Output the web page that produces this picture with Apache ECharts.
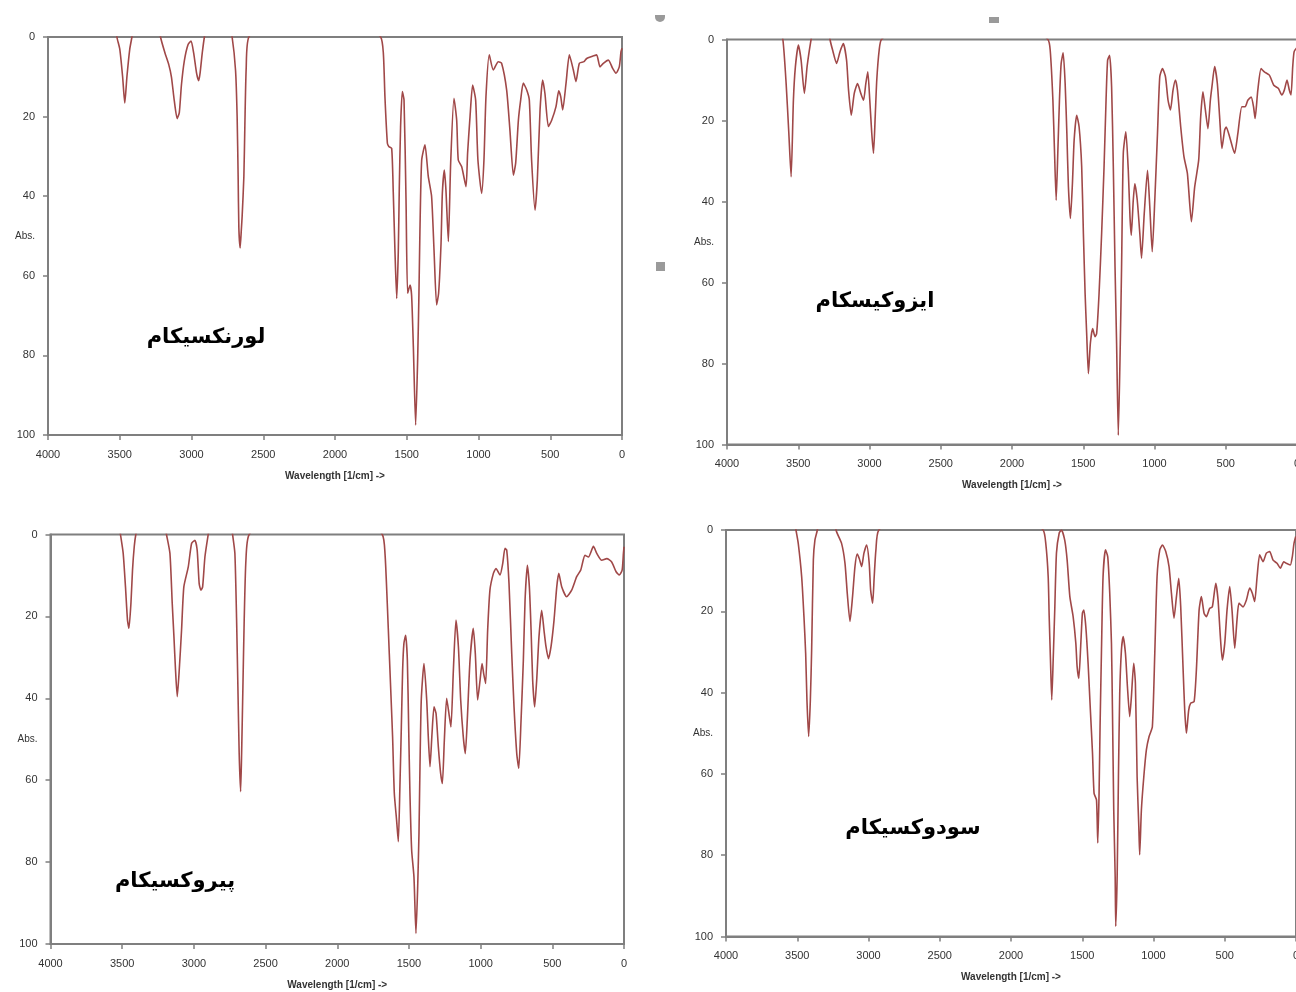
<!DOCTYPE html>
<html>
<head>
<meta charset="utf-8">
<script src="https://cdn.jsdelivr.net/npm/echarts@6/dist/echarts.min.js"></script>
<style>
html,body{margin:0;padding:0;background:#fff;}
#chart{width:1296px;height:992px;}
</style>
</head>
<body>
<div id="chart"></div>
<script>
// ---- tick labels ----
const xTicks = [4000, 3500, 3000, 2500, 2000, 1500, 1000, 500, 0];
const yTicks = [0, 20, 40, 60, 80, 100];

// ---- compound names ----
const names = ['لورنکسیکام', 'ایزوکیسکام', 'پیروکسیکام', 'سودوکسیکام'];

// ---- Lornoxicam (top-left) ----
const lornoWave = [3600,3520,3500,3480,3465,3450,3430,3415,3320,3216,3185,3158,3140,3120,3100,3085,3070,3050,3025,3003,2985,2965,2950,2940,2925,2910,2810,2717,2693,2682,2675,2670,2661,2652,2647,2635,2628,2619,2600,2140,
1682,1663,1652,1635,1625,1605,1594,1582,1570,1559,1552,1543,1531,1519,1505,1494,1477,1466,1454,1438,1424,1415,1408,1396,1373,1350,1327,1310,1292,1278,1261,1252,1238,1227,1210,1194,1171,1152,1141,1117,1087,1076,1059,1041,1020,1004,978,962,948,925,897,862,839,804,781,757,741,722,706,688,664,646,630,606,590,571,553,537,513,490,460,441,427,413,390,367,339,321,297,265,246,211,177,153,130,95,65,42,19,7,0];
const lornoAbs = [-20,0,3,10,16.6,10,3,0,-20,0,4,7,10,16,20.5,19,12,6,2,1,4,9,11,9,4,0,-20,0,8.4,20,35,48,53,48,45,35,22,8,0,-20,
0,4.1,15,26.7,27.5,28,39,54,65.7,54,38,22.5,13.7,15.8,41,64.4,62.3,65,77.8,97.5,81,64.4,48.5,31,27.1,35,40,53.5,67.3,64.4,51.8,39.3,33.4,38.4,51.4,31.7,15.4,20.9,30.9,32.6,37.6,29.2,20,12.1,15.8,30.9,39.3,30.9,15,4.5,8.3,6.2,6.6,13.3,23.4,34.7,31.7,20.9,15.8,11.6,13.3,15.8,30.9,43.5,35.9,18.3,10.8,14.2,22.5,20.9,17.5,13.5,15,18.3,11.6,4.5,8.3,11.2,6.6,6.2,5.4,4.9,4.5,7.5,6.6,5.8,7.9,9.1,7.5,3.7,2.8];

// ---- Isoxicam (top-right) ----
const isoWave = [3700,3608,3585,3566,3550,3534,3520,3499,3480,3457,3438,3422,3410,3340,3277,3259,3231,3207,3184,3161,3147,3128,3107,3084,3061,3042,3026,3012,2998,2984,2972,2960,2949,2932,2916,2330,
1748,1732,1713,1702,1690,1678,1667,1655,1641,1627,1615,1604,1590,1576,1564,1546,1529,1511,1499,1487,1476,1464,1450,1434,1417,1406,1389,1371,1354,1340,1329,1315,1301,1289,1277,1266,1254,1240,1231,1219,1201,1184,1172,1163,1149,1138,1121,1103,1091,1072,1049,1033,1016,998,979,963,944,923,905,888,870,853,839,816,793,769,741,718,690,676,660,643,625,608,597,578,559,543,527,508,497,473,438,415,387,364,345,322,305,294,275,252,229,194,163,130,107,89,70,54,42,30,20,0];
const isoAbs = [-20,0,10.9,23.2,33.9,15,6.7,1.4,5.1,13.3,6.7,2.6,0,-15,0,2.6,5.9,3,1,5.1,12.5,18.7,13.3,10.9,13.3,15,10.9,8,15,23.2,28.1,19.1,10,2.6,0,-20,
0,2.6,15,27.3,39.7,27.3,15,5.9,3.3,10.9,23.2,36.4,44.2,35.6,24.9,18.7,21.6,31.4,47.9,62.7,72.6,82.5,75,71.4,73.4,72.6,62.7,47.9,31.4,15,5.1,3.9,11.7,31.4,56.1,75,97.7,75,56.1,28.1,22.8,32.3,43.8,48.3,39.7,35.6,39.7,47.9,54,43,32.3,41.3,52.4,39.7,23.2,9.2,7.2,9.2,15,17.4,12.5,10,12.5,21.6,29,33.1,45,36.4,29.8,19.1,12.9,17.4,22,15,11.7,6.7,10.9,19.1,26.9,22.4,21.6,24,28.1,23.2,16.6,16.6,15,14.2,16.6,19.5,12.5,7.2,8,8.8,11.3,12.1,13.7,12.5,10,12.5,13.7,6.7,3,2];

// ---- Piroxicam (bottom-left) ----
const piroWave = [3600,3512,3493,3477,3463,3453,3439,3428,3416,3405,3300,3191,3167,3151,3139,3128,3116,3102,3086,3070,3039,3016,2993,2977,2963,2951,2939,2923,2900,2810,2730,2714,2702,2693,2684,2674,2667,2658,2649,2637,2614,2150,
1686,1667,1651,1637,1625,1614,1602,1586,1574,1563,1553,1544,1535,1523,1511,1502,1493,1481,1465,1451,1439,1430,1423,1414,1395,1376,1365,1353,1339,1325,1311,1295,1279,1267,1253,1237,1218,1207,1190,1172,1155,1139,1121,1107,1093,1074,1051,1037,1021,1004,990,979,965,951,935,911,893,865,846,830,818,802,783,767,748,734,718,702,690,674,660,648,637,623,609,593,574,558,544,527,509,488,469,455,434,400,365,330,302,272,248,213,190,155,120,86,55,32,13,4,0];
const piroAbs = [-20,0,4.6,12.8,20.9,22.9,16.8,8.7,3,0,-20,0,4.6,16.8,25,33.1,39.6,33.1,23.4,12.8,7.9,2.2,1.4,3.8,12,13.6,12.8,5.5,0,-20,0,4.6,20.9,37.2,53.5,62.8,53.5,37.2,20.9,6.3,0,-20,
0,4.6,16.9,29.1,39.6,49.4,63.2,69.8,75,61.6,47,33.1,26.6,24.6,30.7,47,63.2,77.1,83.6,97.4,86,73,56.7,40.4,31.5,40.4,49.4,56.7,48.6,42.1,43.7,51.8,58.3,60.8,50.2,40,44.5,47,33.1,20.9,27.4,40.4,49.4,53.5,45.3,30.7,22.9,29.1,40.4,35.6,31.5,33.9,36.4,23.4,13.6,9.5,8.3,9.9,7.1,3.4,3.8,12,29.1,42.1,53.5,57.1,45.3,30.7,16,7.5,12.8,23.4,35.6,42.1,35.6,25,18.5,23.4,27.4,30.3,27.4,20.9,12.8,9.5,12.8,15.2,13.6,10.3,8.7,5.1,5.5,2.9,4.6,6.3,5.9,6.7,9.1,9.9,8.7,4.6,3];

// ---- Sudoxicam (bottom-right) ----
const sudoWave = [3600,3509,3493,3469,3453,3441,3432,3420,3408,3399,3387,3376,3359,3290,3228,3189,3165,3149,3130,3112,3095,3079,3065,3048,3032,3013,2995,2985,2971,2960,2948,2927,2350,
1775,1756,1739,1732,1723,1714,1704,1693,1681,1662,1646,1623,1606,1587,1564,1545,1536,1524,1510,1499,1489,1475,1459,1443,1428,1417,1400,1391,1382,1375,1365,1354,1337,1321,1307,1295,1288,1279,1269,1265,1255,1246,1237,1225,1213,1197,1183,1167,1155,1139,1127,1115,1103,1097,1085,1068,1050,1031,1008,991,975,956,937,914,891,874,856,839,823,809,793,781,769,753,739,715,699,680,664,645,629,606,587,563,547,531,517,500,484,465,449,430,414,400,372,348,325,306,290,273,255,231,208,185,161,133,110,86,68,40,26,14,2];
const sudoAbs = [-20,0,3.3,11.5,21.3,30.3,41.8,50.8,41.8,29.5,7.4,2.5,0,-15,0,3.3,8.2,15.6,22.5,16.4,9,5.9,7,9,5.7,3.7,8.2,14.8,18,11.5,4.9,0,-20,
0,3.3,11.5,21.3,32,41.8,32,19.7,5.7,0.8,0,2.5,7.4,16.4,21.3,27.9,33.6,36.5,27.9,20.5,19.7,23.8,32.8,44.3,54.9,64.8,66.4,77,64.8,48.4,29.5,11.5,4.9,6.6,15.6,27.9,44.3,68.9,85.2,97.5,85.2,60.7,40.2,29.5,26.2,30.3,38.5,45.9,41,32.8,37.7,60.7,73,79.9,68.9,60.7,54.1,50.8,48.4,30.3,11.5,4.9,3.7,5.3,9,15.6,21.7,16.4,11.9,18.9,33.6,44.3,50,44.3,42.6,42.2,34.4,19.7,16.4,20.5,21.3,19.3,18.9,13.1,17.2,26.2,32,27.9,19.7,13.9,19.7,29.1,22.1,18,18.9,17.2,14.3,15.6,17.6,11.5,6.1,7.8,5.7,5.3,7.4,8.2,9.4,7.8,8.2,8.6,6.6,3.3,1.6];

const spectra = [[lornoWave, lornoAbs],[isoWave, isoAbs],[piroWave, piroAbs],[sudoWave, sudoAbs]];

const axisGray = '#7f7f7f';
const lineColor = '#a04848';
const labelFont = 'Liberation Sans, Arial, sans-serif';

const grids = [
  {left: 48, top: 37, width: 574, height: 398},
  {left: 727, top: 39.5, width: 570, height: 405},
  {left: 50.5, top: 534.5, width: 573.5, height: 409.5},
  {left: 726, top: 530, width: 570, height: 406.5}
].map(g => Object.assign(g, {show: true, borderColor: axisGray, borderWidth: 2, backgroundColor: '#fff', outerBoundsMode: 'none', containLabel: false}));

const xAxes = grids.map((g, i) => ({
  type: 'value', gridIndex: i, min: xTicks[xTicks.length-1], max: xTicks[0], interval: xTicks[0]-xTicks[1], inverse: true,
  name: 'Wavelength [1/cm] ->', nameLocation: 'middle', nameGap: 36, nameMoveOverlap: false,
  nameTextStyle: {fontSize: 10, color: '#333', fontFamily: labelFont, fontWeight: 'bold'},
  axisLine: {show: true, onZero: false, lineStyle: {color: axisGray, width: 2}},
  axisTick: {show: true, length: 5, lineStyle: {color: axisGray, width: 1.5}},
  axisLabel: {fontSize: 11, color: '#333', fontFamily: labelFont, margin: 14, formatter: v => String(v), hideOverlap: false},
  splitLine: {show: false}
}));

const yAxes = grids.map((g, i) => ({
  type: 'value', gridIndex: i, min: yTicks[0], max: yTicks[yTicks.length-1], interval: yTicks[1]-yTicks[0], inverse: true,
  name: 'Abs.', nameLocation: 'middle', nameGap: 13, nameRotate: 0, nameMoveOverlap: false,
  nameTextStyle: {fontSize: 10, color: '#333', fontFamily: labelFont, align: 'right', verticalAlign: 'middle'},
  axisLine: {show: true, onZero: false, lineStyle: {color: axisGray, width: 2}},
  axisTick: {show: true, length: 5, lineStyle: {color: axisGray, width: 1.5}},
  axisLabel: {fontSize: 11, color: '#333', fontFamily: labelFont, margin: 13, formatter: v => String(v)},
  splitLine: {show: false}
}));

const series = spectra.map((s, i) => ({
  type: 'line', xAxisIndex: i, yAxisIndex: i,
  data: s[0].map((w, k) => [w, s[1][k]]),
  showSymbol: false, smooth: 0.2, clip: true,
  lineStyle: {color: lineColor, width: 1.6},
  animation: false
}));

const labelPos = [[206, 338], [875, 302], [175, 882], [913, 829]];
const graphics = names.map((n, i) => ({
  type: 'text', x: labelPos[i][0], y: labelPos[i][1], z: 100,
  style: {text: n, fill: '#000', font: 'bold 21px "DejaVu Sans", sans-serif', textAlign: 'center', textVerticalAlign: 'middle'}
}));
graphics.push(
  {type: 'rect', shape: {x: 655, y: 15, width: 10, height: 7, r: [0,0,5,5]}, style: {fill: '#9a9a9a'}},
  {type: 'rect', shape: {x: 989, y: 17, width: 10, height: 6}, style: {fill: '#9a9a9a'}},
  {type: 'rect', shape: {x: 656, y: 262, width: 9, height: 9}, style: {fill: '#9a9a9a'}}
);

const chart = echarts.init(document.getElementById('chart'), null, {renderer: 'canvas'});
chart.setOption({
  animation: false,
  backgroundColor: '#fff',
  grid: grids,
  xAxis: xAxes,
  yAxis: yAxes,
  series: series,
  graphic: graphics
});
</script>
</body>
</html>
